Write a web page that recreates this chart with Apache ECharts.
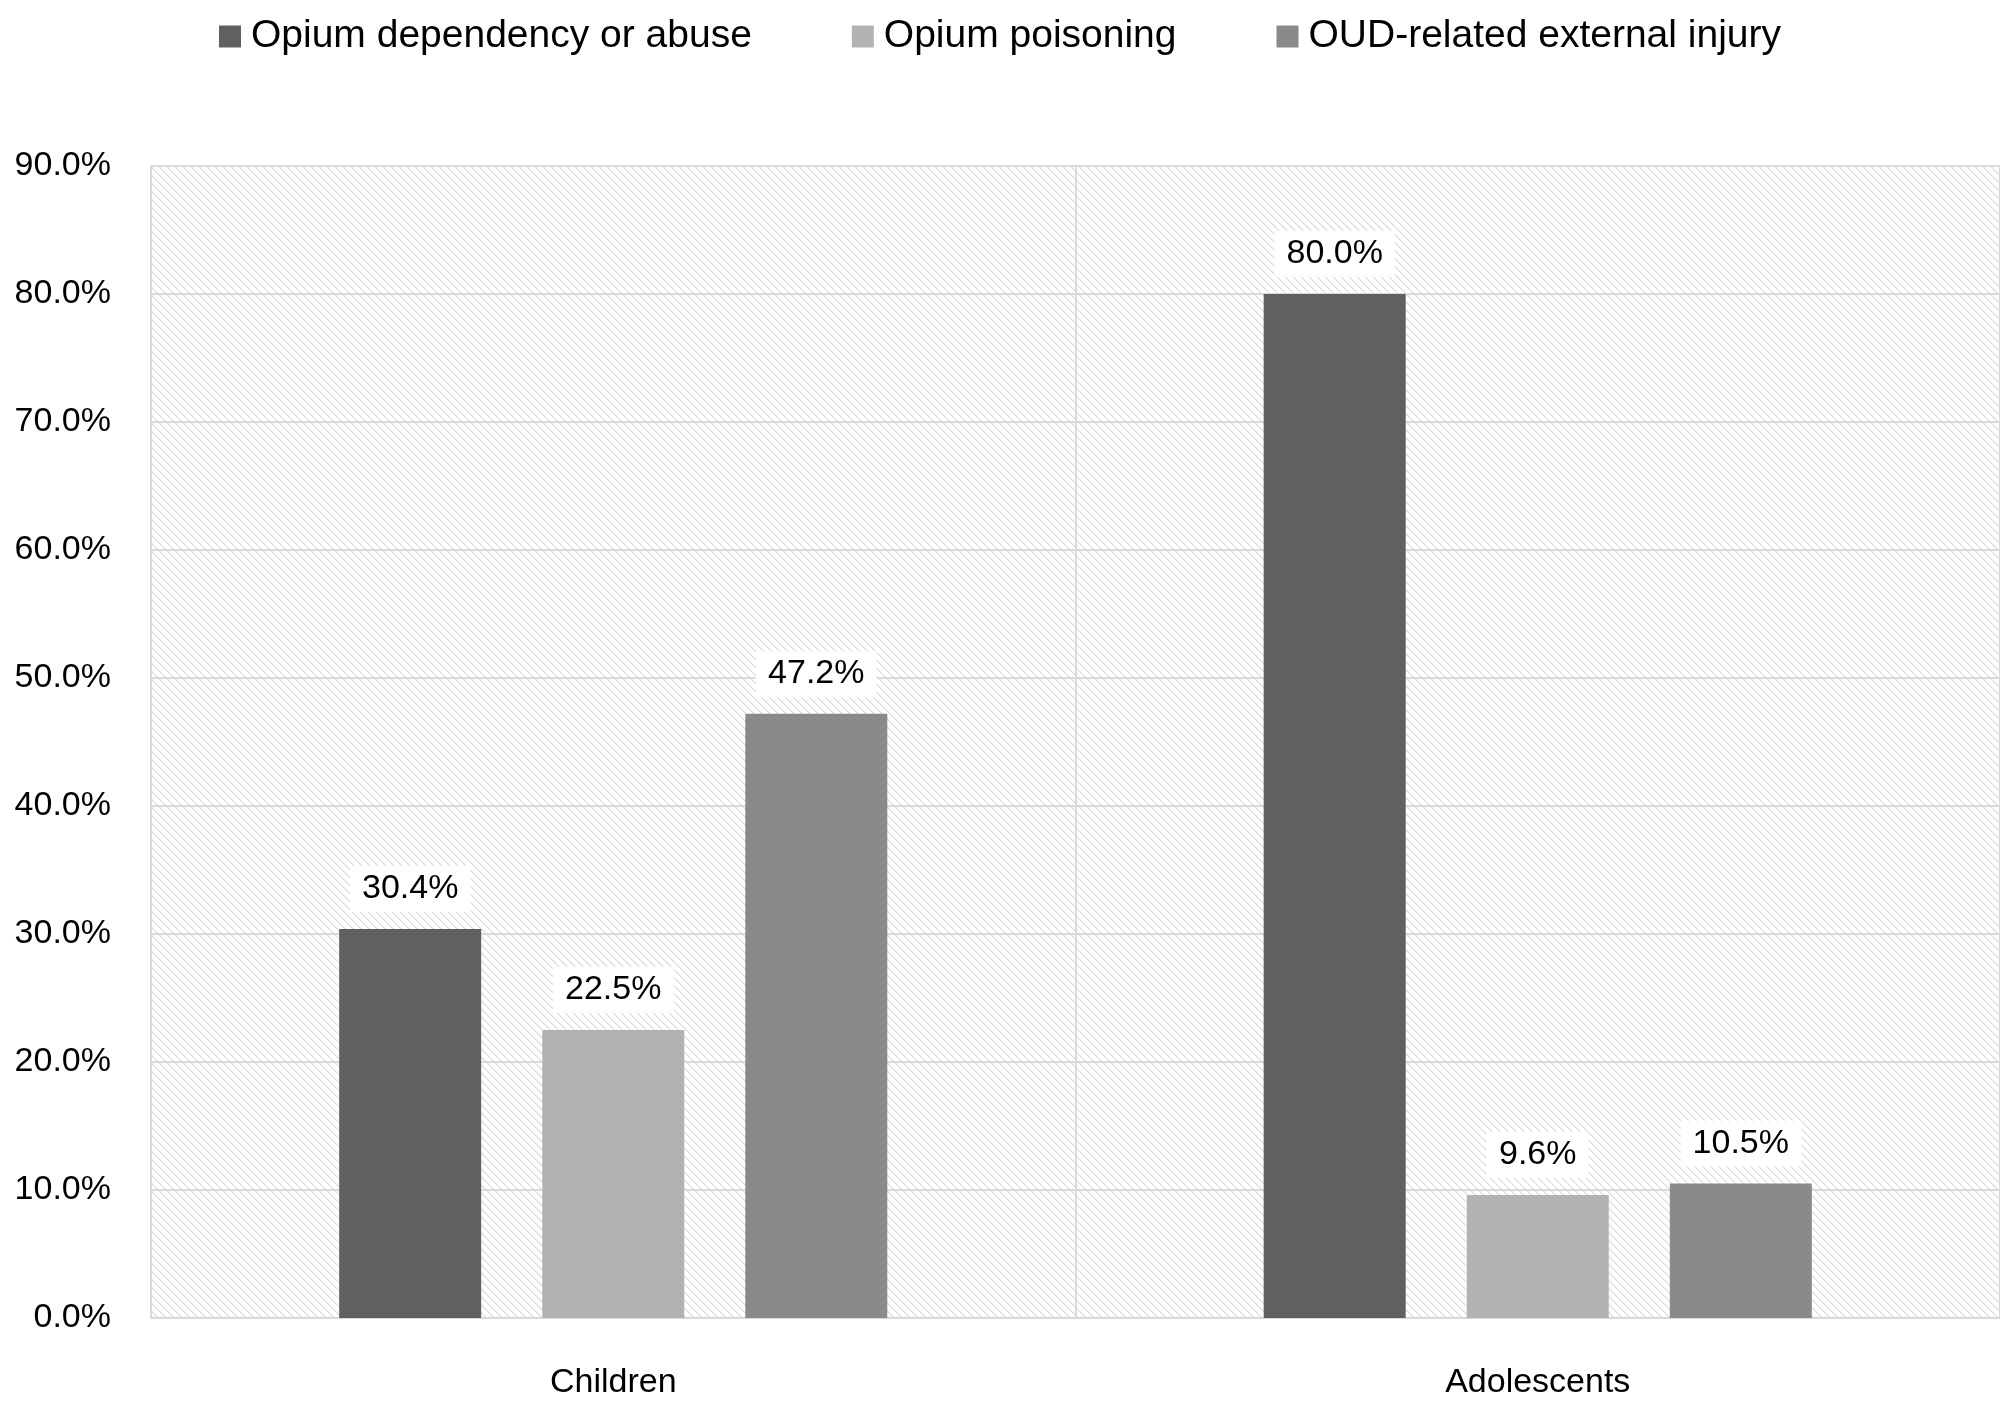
<!DOCTYPE html>
<html>
<head>
<meta charset="utf-8">
<title>Opium use disorder by age group</title>
<script src="https://cdn.jsdelivr.net/npm/echarts@6/dist/echarts.min.js"></script>
<style>
  html, body { margin: 0; padding: 0; background: #fff; }
  #main { width: 2000px; height: 1411px; }
</style>
</head>
<body>
<div id="main"></div>
<script>
// data (percent)
var categories = ['Children', 'Adolescents'];
var seriesNames = ['Opium dependency or abuse', 'Opium poisoning', 'OUD-related external injury'];
var dependency = [30.4, 80.0];
var poisoning = [22.5, 9.6];
var injury = [47.2, 10.5];
var yTicks = { min: 0, max: 90, step: 10 };

var colors = ['#606060', '#b2b2b2', '#8a8a8a'];
var fontFamily = '"Liberation Sans", Arial, sans-serif';

// hatched plot background (downward diagonal)
function makeHatch(){
  var c = document.createElement('canvas');
  c.width = 8; c.height = 8;
  var ctx = c.getContext('2d');
  ctx.fillStyle = '#ffffff';
  ctx.fillRect(0, 0, 8, 8);
  for (var i = 0; i < 8; i++) {
    ctx.fillStyle = '#d9d9d9';
    ctx.fillRect(i, i, 1, 1);
    ctx.fillStyle = '#ededed';
    ctx.fillRect((i + 1) % 8, i, 1, 1);
  }
  return c;
}

document.addEventListener('DOMContentLoaded', function(){
  var chart = echarts.init(document.getElementById('main'));

  function barSeries(name, data, color){
    return {
      name: name,
      type: 'bar',
      data: data,
      barWidth: 142,
      barGap: '43%',
      itemStyle: { color: color },
      label: {
        show: true,
        position: 'top',
        distance: 17,
        color: '#000',
        fontSize: 34,
        fontFamily: fontFamily,
        backgroundColor: '#ffffff',
        padding: [6, 12],
        formatter: function(p){ return p.value.toFixed(1) + '%'; }
      }
    };
  }

  var option = {
    backgroundColor: '#ffffff',
    animation: false,
    color: colors,
    legend: {
      top: 12,
      left: 'center',
      itemWidth: 22,
      itemHeight: 22,
      itemGap: 100,
      icon: 'rect',
      textStyle: { fontSize: 39, color: '#000', fontFamily: fontFamily, padding: [0, 0, 0, 5] },
      data: seriesNames
    },
    grid: {
      left: 151,
      right: 0,
      top: 166,
      bottom: 93,
      show: true,
      borderWidth: 0,
      backgroundColor: { image: makeHatch(), repeat: 'repeat' }
    },
    xAxis: {
      type: 'category',
      data: categories,
      axisLine: { show: true, lineStyle: { color: '#d9d9d9', width: 2 } },
      axisTick: { show: false },
      axisLabel: { color: '#000', fontSize: 34, fontFamily: fontFamily, margin: 48 },
      splitLine: { show: true, lineStyle: { color: '#d9d9d9', width: 2 } }
    },
    yAxis: {
      type: 'value',
      min: yTicks.min,
      max: yTicks.max,
      interval: yTicks.step,
      axisLine: { show: true, lineStyle: { color: '#d9d9d9', width: 2 } },
      axisTick: { show: false },
      axisLabel: {
        color: '#000',
        fontSize: 34,
        fontFamily: fontFamily,
        margin: 40,
        formatter: function(v){ return v.toFixed(1) + '%'; }
      },
      splitLine: { show: true, lineStyle: { color: '#d9d9d9', width: 2 } }
    },
    series: [
      barSeries(seriesNames[0], dependency, colors[0]),
      barSeries(seriesNames[1], poisoning, colors[1]),
      barSeries(seriesNames[2], injury, colors[2])
    ]
  };

  chart.setOption(option);
});
</script>
</body>
</html>
